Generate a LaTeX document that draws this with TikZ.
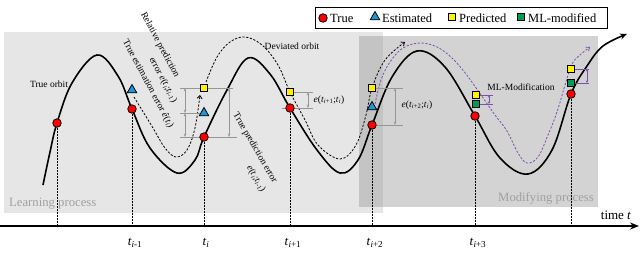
\documentclass[tikz,border=0pt]{standalone}
\usepackage{fontspec}
\setmainfont{Liberation Serif}
\usetikzlibrary{arrows.meta,shapes.geometric}

\newcommand{\tsb}[1]{\textit{t}\textsubscript{#1}}

\begin{document}
\begin{tikzpicture}[x=1pt,y=-1pt,
  truept/.style={circle,draw=black,fill=red,line width=0.8pt,inner sep=0pt,minimum size=8.5pt},
  estpt/.style={regular polygon,regular polygon sides=3,draw=black,fill=estblue,line width=0.8pt,inner sep=0pt,minimum size=11pt},
  predpt/.style={rectangle,draw=black,fill=yellow,line width=1pt,inner sep=0pt,minimum size=7.5pt},
  mlpt/.style={rectangle,draw=black,fill=mlgreen,line width=1pt,inner sep=0pt,minimum size=7.5pt},
  orbit/.style={line width=1.6pt},
  devorbit/.style={line width=0.8pt,dash pattern=on 2.2pt off 1.6pt},
  mlorbit/.style={mlpurple,line width=0.8pt,dash pattern=on 2.2pt off 1.6pt},
  dotline/.style={line width=0.7pt,dash pattern=on 0.6pt off 0.9pt},
  dimline/.style={draw=dimgray,line width=0.7pt},
  dimarrow/.style={dimline,{Stealth[length=3.5pt,width=2.6pt]}-{Stealth[length=3.5pt,width=2.6pt]}},
  mldim/.style={mlpurple,line width=0.7pt},
  mlarrow/.style={mldim,{Stealth[length=2.6pt,width=2.4pt]}-{Stealth[length=2.6pt,width=2.4pt]}},
  small/.style={font=\fontsize{9.5}{11}\selectfont,inner sep=0.5pt},
  legtext/.style={font=\fontsize{12.5}{14}\selectfont,inner sep=0pt,anchor=west},
  axlabel/.style={font=\fontsize{13}{15}\selectfont,inner sep=0pt},
  bglabel/.style={font=\fontsize{12.7}{14}\selectfont,text=labelgray,inner sep=0pt}]
\useasboundingbox (0,0) rectangle (640,252);

\definecolor{learnbg}{RGB}{230,230,230}
\definecolor{modbg}{RGB}{145,145,145}
\definecolor{estblue}{RGB}{30,150,215}
\definecolor{mlgreen}{RGB}{0,155,80}
\definecolor{dimgray}{RGB}{150,150,150}
\definecolor{mlpurple}{RGB}{125,80,175}
\definecolor{labelgray}{RGB}{160,160,160}

% process boxes
\fill[learnbg] (4,32) rectangle (383,213);
\fill[modbg,opacity=0.4] (359,36) rectangle (598,207);
\node[bglabel,anchor=west] (learnlbl) at (9,204) {Learning process};
\node[bglabel,anchor=east] (modlbl) at (594,198) {Modifying process};

% time axis
\coordinate (axisL) at (0,226);
\coordinate (axisR) at (639,226);
\coordinate (tickrow) at (0,243);
\draw[line width=2.4pt,-{Stealth[length=9pt,width=7pt]}] (axisL) -- (axisR);
\node[axlabel] (timelbl) at (616,215) {time \textit{t}};

% true orbit
\draw[orbit,-{Stealth[length=7pt,width=6pt]}] plot[smooth,tension=0.6] coordinates {
  (43,185) (50,152) (57,123) (72,83) (97,55) (118,76) (132,109) (150,148)
  (177,173) (195,160) (204,137) (227,90) (248,58) (270,74) (290,108) (317,150)
  (340,173) (358,160) (372,125) (392,77) (417,51) (445,67) (475,116) (500,158)
  (528,174) (552,150) (571,94) (587,66) (603,46) (627,34)};

% deviated orbit
\draw[devorbit,-{Straight Barb[length=3pt,width=5pt]}] plot[smooth,tension=0.6] coordinates {
  (206,82) (217,57) (230,42) (245,37) (262,45) (278,65) (290,92) (305,120)
  (318,145) (340,159) (356,145) (366,115) (372,88) (385,60) (405,42)};
\draw[devorbit,-{Straight Barb[length=3pt,width=5pt]}] plot[smooth,tension=0.6] coordinates {
  (134,97) (142,110) (153,128) (165,148) (176,157) (187,150) (195,128) (200,95)};

% ML-modified orbit
\draw[mlorbit,-{Straight Barb[length=3pt,width=5pt]}] plot[smooth,tension=0.6] coordinates {
  (375,104) (381,80) (390,62) (403,48) (420,43) (437,47) (452,58) (466,74)
  (481,95) (495,115) (507,131) (518,153) (527,163) (538,157) (548,135)
  (557,112) (565,85) (572,64) (580,55) (590,47)};

% error bars
\draw[dimline] (180,88) -- (233,88);
\draw[dimline] (180,113) -- (206,113);
\draw[dimline] (180,137) -- (237,137);
\draw[dimarrow] (185,88) -- (185,113);
\draw[dimarrow] (185,113) -- (185,137);
\draw[dimarrow] (229,88) -- (229,137);

\draw[dimline] (294,92) -- (313,92);
\draw[dimline] (282,108) -- (313,108);
\draw[dimarrow] (308,92) -- (308,108);

\draw[dimline] (376,88) -- (403,88);
\draw[dimline] (377,125) -- (403,125);
\draw[dimarrow] (395,88) -- (395,125);

\draw[mldim] (480,95) -- (493,95);
\draw[mldim] (480,104) -- (493,104);
\draw[mlarrow] (489,95) -- (489,104);

\draw[mldim] (575,69) -- (589,69);
\draw[mldim] (575,83) -- (589,83);
\draw[mlarrow] (587,69) -- (587,83);

% points on the orbits
\foreach \n/\x/\y in {0/57/123,1/132/109,2/204/137,3/290/108,4/372/125,5/475/116,6/571/94}
  \node[truept] (tru\n) at (\x,\y) {};

\foreach \n in {0,...,6}
  \draw[dotline] (tru\n.south) -- (tru\n.south |- axisL);

\node[estpt] (est1) at (132,90) {};
\node[estpt] (est2) at (204,113) {};
\node[estpt] (est4) at (372,107) {};

\node[predpt] (pre2) at (204,88) {};
\node[predpt] (pre3) at (290,92) {};
\node[predpt] (pre4) at (372,88) {};
\node[predpt] (pre5) at (476,95) {};
\node[predpt] (pre6) at (571,69) {};

\node[mlpt] (mod5) at (476,104) {};
\node[mlpt] (mod6) at (571,83) {};

% time ticks
\node[axlabel] (tk1) at ([xshift=3pt]tru1 |- tickrow) {\tsb{\textit{i}-1}};
\node[axlabel] (tk2) at ([xshift=2pt]tru2 |- tickrow) {\tsb{\textit{i}}};
\node[axlabel] (tk3) at ([xshift=3pt]tru3 |- tickrow) {\tsb{\textit{i}+1}};
\node[axlabel] (tk4) at ([xshift=3pt]tru4 |- tickrow) {\tsb{\textit{i}+2}};
\node[axlabel] (tk5) at ([xshift=3pt]tru5 |- tickrow) {\tsb{\textit{i}+3}};

% labels
\node[small] (truelbl) at (49,84) {True orbit};
\node[small] (devlbl) at (292,46) {Deviated orbit};
\node[small,rotate=-62] (relA) at (160,45) {Relative prediction};
\node[small,rotate=-62] (relB) at (163,80) {error \textit{e}(\tsb{\textit{i}};\tsb{\textit{i}-1})};
\node[small,rotate=-62] (estlbl) at (148,84) {True estimation error \textit{ê}(\tsb{\textit{i}})};
\node[small,rotate=-60] (tprA) at (255,148) {True prediction error};
\node[small,rotate=-60] (tprB) at (256,179) {\textit{e}(\tsb{\textit{i}};\tsb{\textit{i}-1})};
\node[small,anchor=west] (err3) at (313,100) {\textit{e}(\tsb{\textit{i}+1};\tsb{\textit{i}})};
\node[small,anchor=west] (err4) at (401,105) {\textit{e}(\tsb{\textit{i}+2};\tsb{\textit{i}})};
\node[small] (mllbl) at (521,87) {ML-Modification};

% legend
\node[draw,line width=0.8pt,fill=white,minimum width=292pt,minimum height=21pt,inner sep=0pt] (legend) at (461,17.5) {};
\node[truept] (legT) at (323,18) {};
\node[legtext] (legTt) at (330,18) {True};
\node[estpt] (legE) at (375,17) {};
\node[legtext] (legEt) at (382,18) {Estimated};
\node[predpt] (legP) at (452,17) {};
\node[legtext] (legPt) at (459,18) {Predicted};
\node[mlpt] (legM) at (521,17) {};
\node[legtext] (legMt) at (528,18) {ML-modified};

\end{tikzpicture}
\end{document}
